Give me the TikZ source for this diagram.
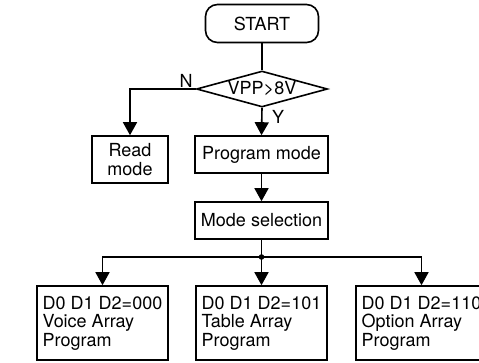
\documentclass[tikz,border=0pt]{standalone}
\usepackage{fontspec}
\setmainfont{TeX Gyre Heros}
\usetikzlibrary{arrows.meta,shapes.geometric}

\begin{document}
\begin{tikzpicture}[x=1pt,y=-1pt,line width=1.6pt,
  font=\fontsize{18}{18.5}\selectfont,
  box/.style={draw,rectangle,inner sep=0pt,align=center},
  arr/.style={-{Triangle[length=13pt,width=14pt]}}]
  \useasboundingbox (0,0) rectangle (479,362);
  \node[box,rounded corners=12pt,minimum width=113pt,minimum height=38pt] (start) at (262,23.5) {START};
  \node[draw,diamond,aspect=3.6,inner sep=0pt,minimum width=131pt,minimum height=36pt] (vpp) at (262,89) {VPP>8V};
  \node (nlab) at (186,81) {N};
  \node (ylab) at (278,117) {Y};
  \node[box,minimum width=76pt,minimum height=47pt] (read) at (130,159.5) {Read\\mode};
  \node[box,minimum width=133pt,minimum height=37pt] (prog) at (261.5,154.5) {Program mode};
  \node[box,minimum width=133pt,minimum height=37pt] (modesel) at (261.5,220.5) {Mode selection};
  \coordinate (jn) at (261.5,257);
  % the three array programs
  \foreach \n/\x/\code/\what in {voice/102.5/000/Voice,table/261.5/101/Table,option/421.5/110/Option} {
    \node[box,align=left,minimum width=131pt,minimum height=74pt] (\n) at (\x,323)
      {D0 D1 D2=\code\\\what\ Array\\Program};
    \draw[arr] (jn) -| (\n.north);
  }
  \draw (start) -- (vpp.north);
  \draw[arr] (vpp.west) -| (read.north);
  \draw[arr] (vpp.south) -- (prog.north);
  \draw[arr] (prog) -- (modesel);
  \draw (modesel) -- (jn);
  \fill (jn) circle (2.8pt);
\end{tikzpicture}
\end{document}
